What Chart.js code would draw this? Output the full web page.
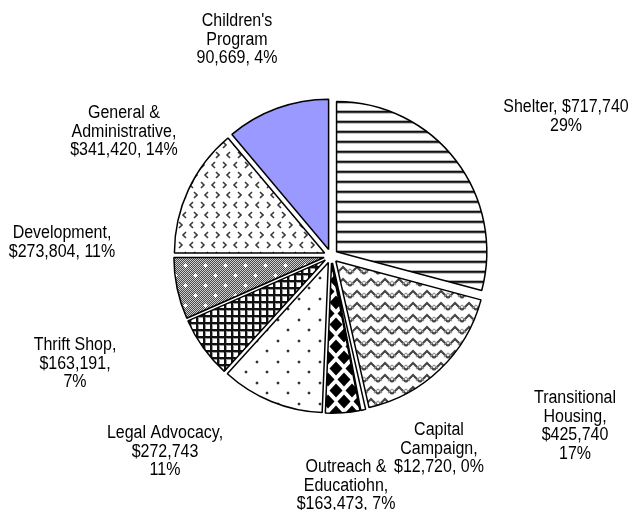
<!DOCTYPE html>
<html>
<head>
<meta charset="utf-8">
<script src="https://cdn.jsdelivr.net/npm/chart.js@4/dist/chart.umd.min.js"></script>
<style>
  html, body { margin: 0; padding: 0; background: #fff; }
  #chart { display: block; }
</style>
</head>
<body>
<canvas id="chart" width="632" height="510"></canvas>
<script>
// slices, clockwise from 12 o'clock
const categories = [
  'Shelter',
  'Transitional Housing',
  'Capital Campaign',
  "Children's Program",
  'Legal Advocacy',
  'Thrift Shop',
  'Outreach & Educatiohn',
  'General & Administrative',
  'Development',
];
const amounts = [717740, 425740, 12720, 90669, 272743, 163191, 163473, 341420, 273804];

// label text as printed on the chart
const labelLines = [
  ['Shelter, $717,740', '29%'],
  ['Transitional', 'Housing,', '$425,740', '17%'],
  ['Capital', 'Campaign,', '$12,720, 0%'],
  ["Children's", 'Program', '90,669, 4%'],
  ['Legal Advocacy,', '$272,743', '11%'],
  ['Thrift Shop,', '$163,191,', '7%'],
  ['Outreach &', 'Educatiohn,', '$163,473, 7%'],
  ['General &', 'Administrative,', '$341,420, 14%'],
  ['Development,', '$273,804, 11%'],
];

// where each label block sits (center x, middle of first line)
const labelPos = [
  [566, 107], [575, 398], [439, 430], [237, 21], [165, 433],
  [75, 345], [346, 467], [124, 113], [62, 233],
];

const EXPLODE = 7;
const LINE_H = 18.8;

function makePattern(w, h, draw) {
  const c = document.createElement('canvas');
  c.width = w;
  c.height = h;
  const g = c.getContext('2d');
  g.fillStyle = '#fff';
  g.fillRect(0, 0, w, h);
  draw(g, w, h);
  return document.getElementById('chart').getContext('2d').createPattern(c, 'repeat');
}

const patStripes = makePattern(8, 10, (g) => {
  g.fillStyle = '#b4b4b4'; g.fillRect(0, 0, 8, 1);
  g.fillStyle = '#111'; g.fillRect(0, 1, 8, 1);
  g.fillStyle = '#3a3a3a'; g.fillRect(0, 2, 8, 1);
  g.fillStyle = '#c4c4c4'; g.fillRect(0, 3, 8, 1);
});

const patZigzag = makePattern(14, 12, (g) => {
  [-12, 0, 12].forEach((dy) => {
    g.strokeStyle = '#444';
    g.lineWidth = 2.2;
    g.beginPath();
    g.moveTo(0, 10 + dy); g.lineTo(7, 3 + dy); g.lineTo(14, 10 + dy);
    g.stroke();
    g.strokeStyle = '#9a9a9a';
    g.lineWidth = 1.2;
    g.beginPath();
    g.moveTo(0, 5 + dy); g.lineTo(4, 9 + dy);
    g.moveTo(10, 9 + dy); g.lineTo(14, 5 + dy);
    g.stroke();
  });
});

const patDiamonds = makePattern(16, 22, (g) => {
  g.fillStyle = '#000';
  const dia = (x, y) => {
    g.beginPath();
    g.moveTo(x, y - 7); g.lineTo(x + 6.5, y); g.lineTo(x, y + 7); g.lineTo(x - 6.5, y);
    g.closePath();
    g.fill();
  };
  dia(8, 5.5); dia(8, 27.5); dia(0, 16.5); dia(16, 16.5); dia(0, -5.5); dia(16, -5.5);
});

const patDots = makePattern(21, 21, (g) => {
  [[4, 4], [14, 14]].forEach(([x, y]) => {
    g.fillStyle = '#c8c8c8';
    g.fillRect(x - 1, y, 4, 2);
    g.fillRect(x, y - 1, 2, 4);
    g.fillStyle = '#333'; g.fillRect(x, y, 2, 2);
  });
});

const patGrid = makePattern(7, 7, (g) => {
  g.fillStyle = '#9a9a9a'; g.fillRect(0, 0, 7, 3); g.fillRect(0, 0, 3, 7);
  g.fillStyle = '#111'; g.fillRect(0, 0, 7, 2); g.fillRect(0, 0, 2, 7);
});

const patChecker = makePattern(20, 20, (g) => {
  for (let i = 0; i < 20; i++) {
    for (let j = 0; j < 20; j++) {
      g.fillStyle = (i + j) % 2 ? '#4a4a4a' : '#cfcfcf';
      g.fillRect(i, j, 1, 1);
    }
  }
  g.fillStyle = '#fff';
  [[5, 5], [15, 15]].forEach(([x, y]) => {
    g.fillRect(x - 2, y, 5, 1);
    g.fillRect(x, y - 2, 1, 5);
    g.fillRect(x - 1, y - 1, 3, 3);
  });
});

const patChevrons = makePattern(22, 20, (g) => {
  g.strokeStyle = '#3a3a3a';
  g.lineWidth = 1.6;
  g.beginPath();
  g.moveTo(3, 2); g.lineTo(6, 5); g.lineTo(3, 8);
  g.moveTo(17, 2); g.lineTo(14, 5); g.lineTo(17, 8);
  g.moveTo(10, 12); g.lineTo(7, 15); g.lineTo(10, 18);
  g.moveTo(18, 12); g.lineTo(21, 15); g.lineTo(18, 18);
  g.stroke();
});

const sliceFills = [
  patStripes, patZigzag, '#ffffff', patDiamonds, patDots,
  patGrid, patChecker, patChevrons, '#9999ff',
];

// pull every slice outward along its middle angle
const explodePlugin = {
  id: 'explode',
  afterDatasetsUpdate(chart) {
    chart.getDatasetMeta(0).data.forEach((arc) => {
      const mid = (arc.startAngle + arc.endAngle) / 2;
      arc.x += Math.cos(mid) * EXPLODE;
      arc.y += Math.sin(mid) * EXPLODE;
    });
  },
};

const labelPlugin = {
  id: 'sliceLabels',
  afterDraw(chart) {
    const ctx = chart.ctx;
    ctx.save();
    ctx.fillStyle = '#000';
    ctx.font = '16px "Liberation Sans", Arial, sans-serif';
    ctx.textAlign = 'center';
    ctx.textBaseline = 'middle';
    labelLines.forEach((lines, i) => {
      const [x, y] = labelPos[i];
      lines.forEach((t, k) => {
        const ly = y + k * LINE_H;
        ctx.save();
        ctx.translate(x, ly);
        ctx.scale(1, 1.1);
        ctx.fillText(t, 0, 0);
        ctx.restore();
      });
    });
    ctx.restore();
  },
};

new Chart(document.getElementById('chart'), {
  type: 'pie',
  data: {
    labels: categories,
    datasets: [{
      data: amounts,
      backgroundColor: sliceFills,
      borderColor: '#000',
      borderWidth: 1.5,
    }],
  },
  options: {
    responsive: false,
    animation: false,
    events: [],
    layout: { padding: { left: 180, right: 150, top: 105, bottom: 103 } },
    plugins: {
      legend: { display: false },
      title: { display: false },
      tooltip: { enabled: false },
    },
  },
  plugins: [explodePlugin, labelPlugin],
});
</script>
</body>
</html>
